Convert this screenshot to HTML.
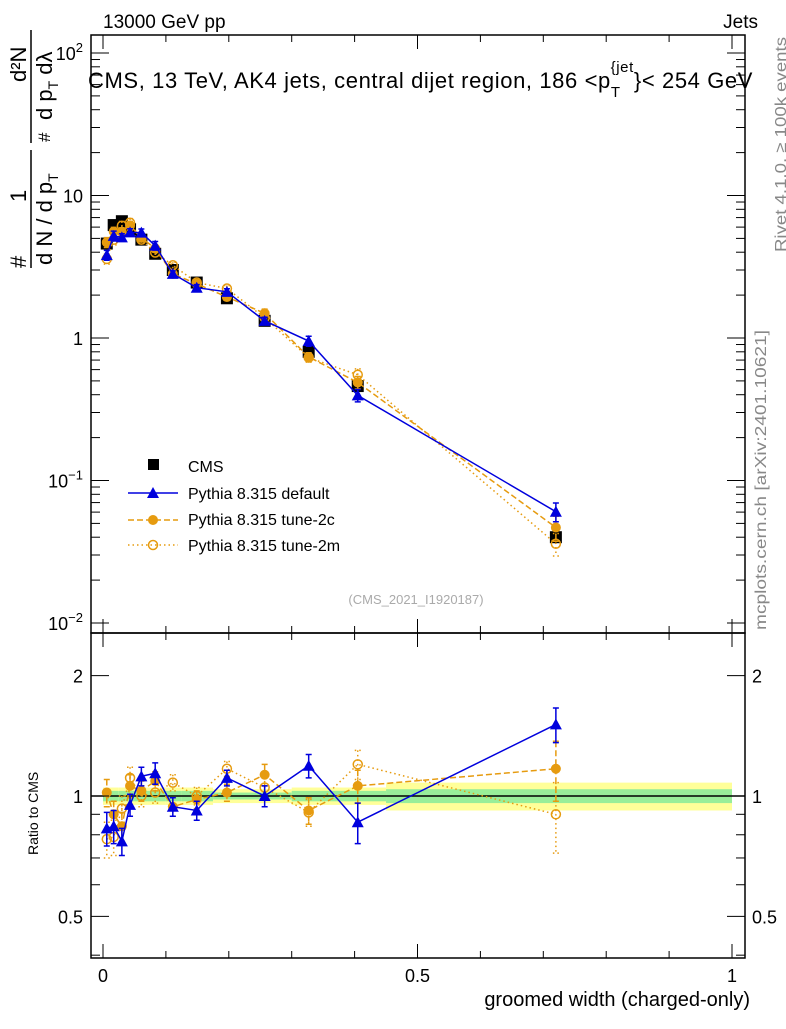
<!DOCTYPE html>
<html><head><meta charset="utf-8">
<style>
body{margin:0;background:#fff;}
svg text{font-family:"Liberation Sans","DejaVu Sans",sans-serif;}
</style></head>
<body>
<svg id="chart" width="786" height="1024" viewBox="0 0 786 1024" xmlns="http://www.w3.org/2000/svg">
<rect width="786" height="1024" fill="#fff"/>
<g id="bands"></g>
<g id="marks"></g>
<g id="axes"></g>
<text x="103" y="28" font-size="19">13000 GeV pp</text>
<text x="758" y="28" font-size="19" text-anchor="end">Jets</text>
<text x="88" y="88" font-size="22" letter-spacing="0.6">CMS, 13 TeV, AK4 jets, central dijet region, 186 &lt;p<tspan font-size="15" dy="9">T</tspan><tspan font-size="15" dy="-25" dx="-10">{jet</tspan><tspan dy="16">}&lt; 254 GeV</tspan></text>
<text x="416" y="604" font-size="13" fill="#aaa" text-anchor="middle">(CMS_2021_I1920187)</text>
<text transform="translate(786,252) rotate(-90)" font-size="16" fill="#888" textLength="215" lengthAdjust="spacingAndGlyphs">Rivet 4.1.0, ≥ 100k events</text>
<text transform="translate(766,630) rotate(-90)" font-size="16" fill="#888" textLength="300" lengthAdjust="spacingAndGlyphs">mcplots.cern.ch [arXiv:2401.10621]</text>
<g font-size="22">
<text transform="translate(26,268) rotate(-90)">#</text>
<text transform="translate(26,202) rotate(-90)">1</text>
<text transform="translate(26,82) rotate(-90)">d²N</text>
<line x1="31" y1="150" x2="31" y2="268" stroke="#000" stroke-width="1.5"/>
<line x1="31" y1="30" x2="31" y2="143" stroke="#000" stroke-width="1.5"/>
<text transform="translate(52,265) rotate(-90)">d N / d p<tspan font-size="14" dy="6">T</tspan></text>
<text transform="translate(50,142) rotate(-90)" font-size="17">#</text>
<text transform="translate(52,120) rotate(-90)">d p<tspan font-size="14" dy="6">T</tspan><tspan dy="-6"> dλ</tspan></text>
</g>
<text transform="translate(38,855) rotate(-90)" font-size="14">Ratio to CMS</text>
<text x="750" y="1006" font-size="20" text-anchor="end">groomed width (charged-only)</text>
<g font-size="16">
<rect x="148" y="459" width="11" height="11" fill="#000"/>
<text x="188" y="472">CMS</text>
<line x1="128" y1="493" x2="178" y2="493" stroke="#0000dd" stroke-width="1.5"/>
<path d="M153,487 L159,498 L147,498 Z" fill="#0000dd"/>
<text x="188" y="499">Pythia 8.315 default</text>
<line x1="128" y1="520" x2="178" y2="520" stroke="#e69b0f" stroke-width="1.5" stroke-dasharray="6,3"/>
<circle cx="153" cy="520" r="5" fill="#e69b0f"/>
<text x="188" y="525">Pythia 8.315 tune-2c</text>
<line x1="128" y1="545" x2="178" y2="545" stroke="#e69b0f" stroke-width="1.5" stroke-dasharray="1.5,3"/>
<circle cx="153" cy="545" r="4.5" fill="none" stroke="#e69b0f" stroke-width="1.5"/>
<text x="188" y="551">Pythia 8.315 tune-2m</text>
</g>
</svg>
<script>
const xCenters=[0.006,0.017,0.03,0.043,0.061,0.083,0.111,0.149,0.197,0.257,0.327,0.405,0.72];
const binEdges=[0,0.01,0.025,0.035,0.05,0.07,0.1,0.125,0.175,0.225,0.3,0.36,0.45,1.0];
const cmsValues=[4.6,6.2,6.6,5.8,4.9,3.9,3.0,2.45,1.9,1.32,0.8,0.46,0.04];
const bandTotal=[0.05,0.05,0.05,0.05,0.05,0.05,0.05,0.05,0.04,0.04,0.05,0.05,0.08];
const bandStat=[0.03,0.03,0.03,0.03,0.03,0.03,0.03,0.03,0.02,0.02,0.03,0.03,0.04];
const ratioDefault=[0.83,0.84,0.77,0.95,1.12,1.14,0.94,0.92,1.11,1.0,1.19,0.86,1.51];
const errDefault=[0.08,0.08,0.06,0.06,0.06,0.07,0.05,0.05,0.05,0.06,0.08,0.1,0.15];
const ratio2c=[1.02,0.9,0.84,1.06,1.03,1.09,0.94,0.98,1.02,1.13,0.92,1.06,1.17];
const err2c=[0.08,0.07,0.07,0.07,0.06,0.06,0.05,0.05,0.05,0.07,0.07,0.1,0.2];
const ratio2m=[0.78,0.79,0.93,1.11,1.0,1.02,1.08,1.0,1.17,1.05,0.91,1.2,0.9];
const err2m=[0.08,0.08,0.07,0.07,0.06,0.06,0.05,0.05,0.05,0.07,0.07,0.1,0.18];
const xTicks=[0,0.5,1];
const xTickLabels=["0","0.5","1"];
const yMainTicks=[0.01,0.1,1,10,100];
const yRatioTicks=[0.5,1,2];
const yRatioLabels=["0.5","1","2"];

const NS="http://www.w3.org/2000/svg";
const L=91,R=745,T=35,MB=633,RB=958;
const xs=v=>103+v*629;
const ym=v=>338-Math.log10(v)*142.5;
const yr=v=>796-Math.log10(v)*400;
function mk(par,tag,at){const e=document.createElementNS(NS,tag);for(const k in at)e.setAttribute(k,at[k]);document.getElementById(par).appendChild(e);return e;}
const BLUE="#0000dd",ORG="#e69b0f";

for(let i=0;i<cmsValues.length;i++){
 const x0=xs(binEdges[i]),x1=xs(binEdges[i+1]);
 let e=mk("bands","rect",{x:x0,y:yr(1+bandTotal[i]),width:x1-x0,height:yr(1-bandTotal[i])-yr(1+bandTotal[i]),fill:"#ffff99"});
 
 
 e=mk("bands","rect",{x:x0,y:yr(1+bandStat[i]),width:x1-x0,height:yr(1-bandStat[i])-yr(1+bandStat[i]),fill:"#99ee99"});
 
 
}
let ln=mk("bands","line",{x1:L,x2:R,y1:yr(1),y2:yr(1),stroke:"#000","stroke-width":1.5});



cmsValues.forEach((v,i)=>{
 const e=mk("marks","rect",{x:xs(xCenters[i])-6,y:ym(v)-6,width:12,height:12,fill:"#000"});
 
 
});

function series(ratio,err,color,dash,kind,name){
 const mainPts=ratio.map((r,i)=>[xs(xCenters[i]),ym(r*cmsValues[i])]);
 const ratPts=ratio.map((r,i)=>[xs(xCenters[i]),yr(r)]);
 [[mainPts,"main",i=>[ym(ratio[i]*cmsValues[i]*(1+err[i])),ym(ratio[i]*cmsValues[i]*(1-err[i]))]],
  [ratPts,"ratio",i=>[yr(ratio[i]+err[i]),yr(ratio[i]-err[i])]]].forEach(([pts,pn,ef])=>{
  const pl=mk("marks","polyline",{points:pts.map(p=>p.join(",")).join(" "),fill:"none",stroke:color,"stroke-width":1.5,"stroke-dasharray":dash});
  
  
  pts.forEach((p,i)=>{
   const [y1,y2]=ef(i);
   const eb=mk("marks","path",{d:`M${p[0]},${y1}V${y2}M${p[0]-3},${y1}h6M${p[0]-3},${y2}h6`,stroke:color,"stroke-width":1.5,"stroke-dasharray":dash,fill:"none"});
   
   
   let m;
   if(kind==="tri")m=mk("marks","path",{d:`M${p[0]},${p[1]-6}L${p[0]+6},${p[1]+5}L${p[0]-6},${p[1]+5}Z`,fill:color});
   else if(kind==="dot")m=mk("marks","circle",{cx:p[0],cy:p[1],r:5,fill:color});
   else m=mk("marks","circle",{cx:p[0],cy:p[1],r:4.5,fill:"none",stroke:color,"stroke-width":1.5});
   
   
  });
 });
}
series(ratio2m,err2m,ORG,"1.5,3","open","tune-2m");
series(ratio2c,err2c,ORG,"6,3","dot","tune-2c");
series(ratioDefault,errDefault,BLUE,"","tri","default");

[[T,MB],[MB,RB]].forEach(([a,b],k)=>{
 const f=mk("axes","rect",{x:L,y:a,width:R-L,height:b-a,fill:"none",stroke:"#000","stroke-width":1.5});
 
 
});
for(let j=0;j<=10;j++){
 const v=j/10,x=xs(v),len=(j%5===0)?14:7;
 [[T,1],[MB,-1],[MB,1],[RB,-1]].forEach(([y0,d])=>{
  const t=mk("axes","line",{x1:x,x2:x,y1:y0,y2:y0+d*len,stroke:"#000","stroke-width":1});
  
  
 });
}
xTicks.forEach((v,i)=>{
 const t=mk("axes","text",{x:xs(v),y:982,"font-size":18,"text-anchor":"middle"});
 t.textContent=xTickLabels[i];
 
 
});
yMainTicks.forEach((v,i)=>{
 for(let m=1;m<10;m++){
  const y=ym(v*m);if(y<T||y>MB)continue;
  const len=m===1?18:9;
  [[L,1],[R,-1]].forEach(([x0,d])=>{
   const t=mk("axes","line",{x1:x0,x2:x0+d*len,y1:y,y2:y,stroke:"#000","stroke-width":1});
   
   
  });
 }
 const ex=Math.round(Math.log10(v));
 const t=mk("axes","text",{x:83,y:ym(v)+7,"font-size":18,"text-anchor":"end"});
 if(ex===0)t.textContent="1";
 else if(ex===1)t.textContent="10";
 else{t.textContent="10";const s=document.createElementNS(NS,"tspan");s.setAttribute("dy","-8");s.setAttribute("font-size","13");s.textContent=String(ex).replace("-","−");t.appendChild(s);}
 
 
});
[0.4,0.5,0.6,0.7,0.8,0.9,1,2].forEach(v=>{
 const y=yr(v),len=(v===0.5||v===1||v===2)?18:9;
 [[L,1],[R,-1]].forEach(([x0,d])=>{
  const t=mk("axes","line",{x1:x0,x2:x0+d*len,y1:y,y2:y,stroke:"#000","stroke-width":1});
  
  
 });
});
yRatioTicks.forEach((v,i)=>{
 [[83,"end"],[752,"start"]].forEach(([x,a])=>{
  const t=mk("axes","text",{x:x,y:yr(v)+7,"font-size":18,"text-anchor":a});
  t.textContent=yRatioLabels[i];
  
  
 });
});
</script>
</body></html>
